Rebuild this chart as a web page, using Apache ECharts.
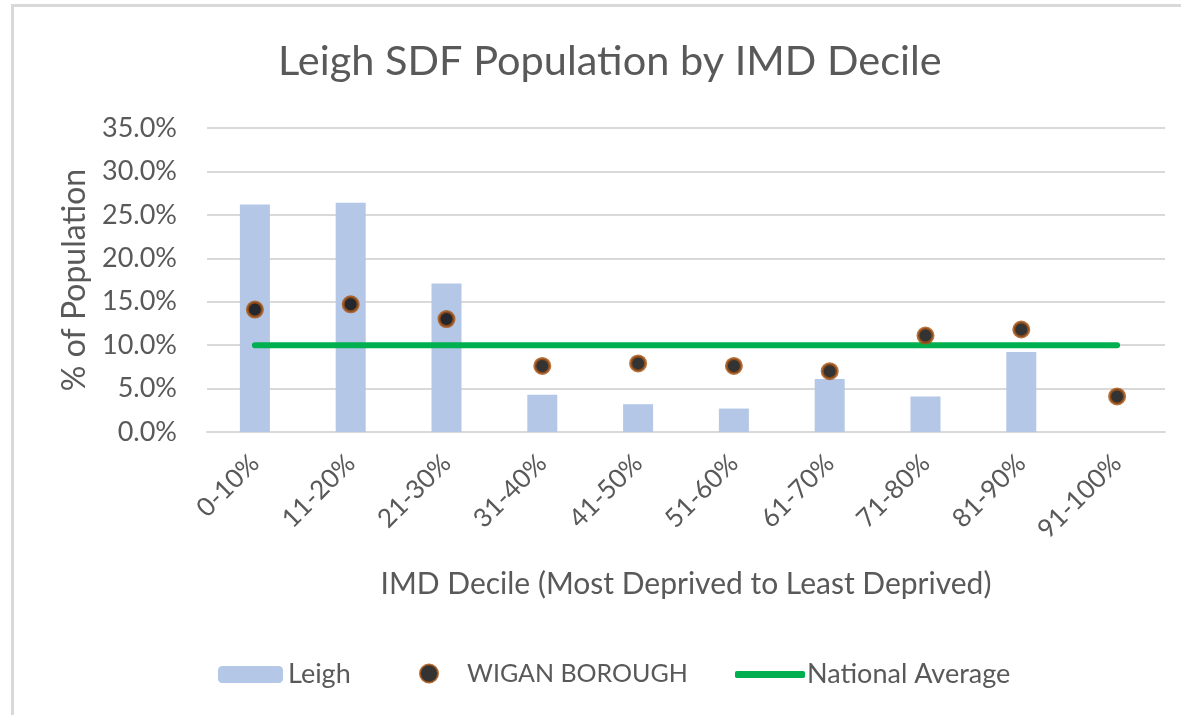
<!DOCTYPE html>
<html>
<head>
<meta charset="utf-8">
<title>Leigh SDF Population by IMD Decile</title>
<script src="https://cdn.jsdelivr.net/npm/echarts@6/dist/echarts.min.js"></script>
<style>
    body { margin: 0; background: #fff; }
    #frame {
        position: absolute; left: 11px; top: 4px; width: 1170px; height: 711px;
        border-top: 3px solid #d9d9d9; border-left: 3px solid #d9d9d9;
    }
    #chart { position: absolute; left: 0; top: 0; width: 1181px; height: 715px; }
</style>
</head>
<body>
<div id="frame"></div>
<div id="chart"></div>
<script>
// values (percent of population)
var deciles = ['0-10%', '11-20%', '21-30%', '31-40%', '41-50%', '51-60%', '61-70%', '71-80%', '81-90%', '91-100%'];
var leigh = [26.2, 26.4, 17.1, 4.3, 3.2, 2.7, 6.1, 4.1, 9.2, 0];
var wigan = [14.1, 14.7, 13.0, 7.6, 7.9, 7.6, 7.0, 11.1, 11.8, 4.1];
var national = [10, 10, 10, 10, 10, 10, 10, 10, 10, 10];
var yTicks = [0, 5, 10, 15, 20, 25, 30, 35];

var textGrey = '#595959';
var font = 'Lato';

var chart = echarts.init(document.getElementById('chart'));

var option = {
    animation: false,
    title: {
        text: 'Leigh SDF Population by IMD Decile',
        left: 273,
        top: 36,
        textStyle: { fontFamily: font, fontSize: 41.5, fontWeight: 'normal', color: textGrey }
    },
    legend: [
        {
            data: ['Leigh'], left: 213, top: 656,
            itemWidth: 65, itemHeight: 17,
            textStyle: { fontFamily: font, fontSize: 27, color: textGrey }
        },
        {
            data: ['WIGAN BOROUGH'], left: 414, top: 656,
            itemWidth: 18, itemHeight: 18,
            textStyle: { fontFamily: font, fontSize: 25, color: textGrey, padding: [0, 0, 0, 24] }
        },
        {
            data: [{ name: 'National Average', icon: 'roundRect' }], left: 730, top: 656,
            itemWidth: 70, itemHeight: 7,
            textStyle: { fontFamily: font, fontSize: 27, color: textGrey, padding: [0, 0, 0, -3] }
        }
    ],
    grid: { left: 207, right: 16, top: 128, bottom: 283 },
    xAxis: {
        type: 'category',
        data: deciles,
        name: 'IMD Decile (Most Deprived to Least Deprived)',
        nameLocation: 'middle',
        nameGap: 137,
        nameTextStyle: { fontFamily: font, fontSize: 30, color: textGrey },
        axisLine: { lineStyle: { color: '#d9d9d9', width: 2 } },
        axisTick: { show: false },
        axisLabel: {
            rotate: 45, margin: 27, interval: 0,
            fontFamily: font, fontSize: 26, color: textGrey
        }
    },
    yAxis: {
        type: 'value',
        min: yTicks[0],
        max: yTicks[yTicks.length - 1],
        interval: 5,
        name: '% of Population',
        nameLocation: 'middle',
        nameGap: 106,
        nameTextStyle: { fontFamily: font, fontSize: 32, color: textGrey },
        axisLine: { show: false },
        axisTick: { show: false },
        splitLine: { lineStyle: { color: '#d9d9d9', width: 2 } },
        axisLabel: {
            margin: 30,
            fontFamily: font, fontSize: 27, color: textGrey,
            formatter: function (v) { return v.toFixed(1) + '%'; }
        }
    },
    series: [
        {
            name: 'Leigh',
            type: 'bar',
            data: leigh,
            barWidth: 30,
            itemStyle: { color: '#b4c7e7' }
        },
        {
            name: 'National Average',
            type: 'line',
            data: national,
            symbol: 'none',
            lineStyle: { color: '#00b050', width: 6, cap: 'round' },
            itemStyle: { color: '#00b050' },
            z: 3
        },
        {
            name: 'WIGAN BOROUGH',
            type: 'scatter',
            data: wigan,
            symbol: 'circle',
            symbolSize: 15,
            itemStyle: { color: '#000', borderColor: '#a5500f', borderWidth: 3 },
            z: 4
        }
    ]
};

chart.setOption(option);
</script>
</body>
</html>
